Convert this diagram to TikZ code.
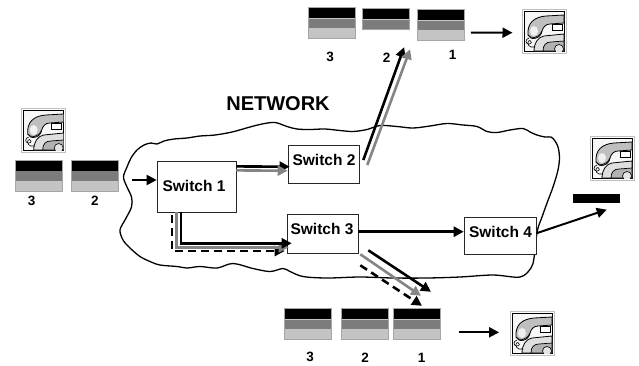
\documentclass[tikz,border=0pt]{standalone}
\usepackage{fontspec}
\setmainfont{Liberation Sans}
\usetikzlibrary{arrows.meta,calc}

\definecolor{pktdark}{HTML}{7C7C7C}
\definecolor{pktlight}{HTML}{C4C4C4}
\definecolor{trail}{HTML}{858585}

\tikzset{
  switchbox/.style={draw=black!85, line width=0.6pt, fill=white, inner sep=0pt},
  switchlabel/.style={font=\fontsize{15.5}{18}\selectfont\bfseries, inner sep=0pt},
  seqlabel/.style={font=\fontsize{13.5}{16}\selectfont\bfseries, inner sep=0pt},
  netlabel/.style={font=\fontsize{20}{24}\selectfont\bfseries, inner sep=0pt},
  tip/.style={-{Triangle[length=10pt,width=10pt]}},
  flow/.style={tip, line width=2.6pt, line join=miter},
  flowgray/.style={flow, draw=trail},
  flowdash/.style={flow, dash pattern=on 8pt off 5pt},
  thinflow/.style={tip, line width=2pt},
  packet/.pic={
    \fill[gray!45] (0,0) rectangle (47,31);
    \fill[black] (0,0) rectangle (47,10.6);
    \fill[pktdark] (0,11.3) rectangle (47,20.7);
    \fill[pktlight] (0,21.4) rectangle (47,31);
    \draw[gray!70, line width=0.5pt] (0,0) rectangle (47,31);
    \node[inner sep=0pt, minimum width=47pt, minimum height=31pt] (-box) at (23.5,15.5) {};
  },
  packettwo/.pic={
    \fill[gray!45] (0,0) rectangle (47,21);
    \fill[black] (0,0) rectangle (47,10.6);
    \fill[pktdark] (0,11.3) rectangle (47,21);
    \draw[gray!70, line width=0.5pt] (0,0) rectangle (47,21);
    \node[inner sep=0pt, minimum width=47pt, minimum height=21pt] (-box) at (23.5,10.5) {};
  },
  phone/.pic={
    \fill[white] (0,0) rectangle (44,44);
    \draw[gray!50, line width=1pt] (0,0) rectangle (44,44);
    \draw[black, line width=0.9pt, fill=gray!6] (2,2) rectangle (42,42);
    \begin{scope}
      \clip (2,2) rectangle (42,42);
      % telephone base
      \draw[line width=0.8pt, fill=gray!25] (12,42) .. controls (12,34) and (16,28) .. (22,27) -- (42,25) -- (42,42) -- cycle;
      \draw[line width=0.7pt, fill=gray!60] (21,42) .. controls (21,36) and (24,33) .. (29,33) -- (42,32) -- (42,42) -- cycle;
      \draw[line width=0.6pt, fill=gray!20] (37,40) circle (4.5);
      % handset
      \draw[line width=0.8pt, fill=gray!50] (6,26) .. controls (5,14) and (12,8) .. (24,7) -- (42,6) -- (42,14) -- (28,15) .. controls (24,15) and (21,18) .. (20,22) .. controls (19,30) and (8,32) .. (6,26) -- cycle;
      \fill[gray!12] (12,22) ellipse (4 and 5);
      \draw[line width=0.6pt] (6,26) .. controls (9,30) and (16,30) .. (20,22);
      \draw[line width=0.6pt, fill=white] (30,15) rectangle (40,21);
      % cord
      \draw[line width=0.6pt] (7,29) .. controls (3,30) and (3,35) .. (7,35) .. controls (10,35) and (10,32) .. (8,31.5) .. controls (5,31) and (5,37) .. (9,38) -- (13,38);
    \end{scope}
    \node[inner sep=0pt, minimum size=44pt] (-box) at (22,22) {};
  },
}

\begin{document}
\begin{tikzpicture}[x=1pt, y=-1pt]
\useasboundingbox (0,0) rectangle (639,365);

% network cloud
\draw[line width=1.3pt, line join=round] plot[smooth cycle, tension=0.55] coordinates {
  (131,158) (137,150) (144,145) (151,143) (157,144) (164,141) (174,139) (187,138)
  (200,136) (215,135) (232,132) (250,127) (262,124) (275,122.5) (287,126.5) (297,129)
  (310,129.5) (325,129) (340,130.5) (353,131.5) (367,129.5) (380,125.5) (397,126.5)
  (413,128) (430,126) (447,123.5) (463,125) (477,126.5) (487,131.5) (497,132.5)
  (510,130) (523,128.5) (530,132) (537,135) (545,137) (551,137) (555,141) (558,147)
  (559.5,157) (558,170) (553,187) (547,203) (542,217) (538,228) (536,240) (534,258)
  (531,268) (520,277) (493,275) (460,277) (427,278) (393,278) (360,277) (327,278)
  (303,276.5) (290,271.5) (283,268.5) (270,271.5) (253,268.5) (233,263.5) (217,268)
  (200,266.5) (187,268) (177,266.5) (160,265) (150,261.5) (140,256.5) (130,248)
  (123,240) (120,230) (125,220) (131.5,207) (131.5,197) (127,187) (123.5,177) (127,167)
};
\node[netlabel] (net) at (278,103.7) {NETWORK};

% switches
\node[switchbox, minimum width=79pt, minimum height=51pt] (s1) at (196.5,186.5) {};
\node[switchbox, minimum width=71pt, minimum height=38pt] (s2) at (323.5,164) {};
\node[switchbox, minimum width=71pt, minimum height=39pt] (s3) at (322.5,233.5) {};
\node[switchbox, minimum width=72pt, minimum height=37pt] (s4) at (500,235.5) {};
\node[switchlabel] (s1t) at (194,186) {Switch 1};
\node[switchlabel] (s2t) at (324,160) {Switch 2};
\node[switchlabel] (s3t) at (322,229) {Switch 3};
\node[switchlabel] (s4t) at (500.5,232) {Switch 4};

% sender side
\pic (lph) at (21.7,108) {phone};
\pic (lp3) at (15,160) {packet};
\pic (lp2) at (71.7,160) {packet};
\node[seqlabel] (lp3n) at (31.7,201) {3};
\node[seqlabel] (lp2n) at (95,201) {2};

% receiver via switch 2
\pic (tp3) at (308,7.5) {packet};
\pic (tp2) at (362,8.3) {packettwo};
\pic (tp1) at (417.3,9.3) {packet};
\node[seqlabel] (tp3n) at (330,56.7) {3};
\node[seqlabel] (tp2n) at (386.7,57.7) {2};
\node[seqlabel] (tp1n) at (452.7,55) {1};
\pic (tph) at (522,9) {phone};

% receiver via switch 3
\pic (bp3) at (284,308.3) {packet};
\pic (bp2) at (341,308.3) {packet};
\pic (bp1) at (393.3,308.3) {packet};
\node[seqlabel] (bp3n) at (310,356.5) {3};
\node[seqlabel] (bp2n) at (365,357.5) {2};
\node[seqlabel] (bp1n) at (421.7,358.3) {1};
\pic (bph) at (510,311) {phone};

% receiver via switch 4
\pic (rph) at (590,136) {phone};
\node[fill=black, minimum width=47pt, minimum height=9.5pt, inner sep=0pt] (bar) at (596.5,198.7) {};

% flows
\draw[thinflow] ($(s1.west)+(-25,-6.5)$) -- ($(s1.west)+(0,-6.5)$);

\draw[flow] ($(s1.north east)+(0,5.7)$) -- ($(s2.west)+(2,2.7)$);
\draw[flowgray] ($(s1.north east)+(0,9.7)$) -- ($(s2.west)+(0,6.7)$);

\draw[flowdash] ($(s1.south)+(-24.5,3)$) |- ($(s3.west)+(-2,17.5)$);
\draw[flowgray] ($(s1.south)+(-20,0)$) |- ($(s3.west)+(2,13.8)$);
\draw[flow] ($(s1.south)+(-15.5,0)$) |- ($(s3.west)+(5,9.8)$);

\draw[flow] ($(s3.east)+(0,-1.8)$) -- ($(s4.west)+(0,-3.8)$);
\draw[thinflow] ($(s4.east)+(0,-2.2)$) -- ($(bar.south)+(10.2,6)$);

\draw[flow] ($(s2.east)+(4,-4)$) -- ($(tp2-box.south)+(18.6,17.7)$);
\draw[flowgray] ($(s2.east)+(8,1)$) -- ($(tp2-box.south)+(24.6,19.7)$);

\draw[flow] ($(s3.south east)+(10,-3)$) -- ($(bp1-box.north)+(14.2,-16.3)$);
\draw[flowgray] ($(s3.south east)+(2,1)$) -- ($(bp1-box.north)+(4.2,-12.3)$);
\draw[flowdash] ($(s3.south east)+(2,12)$) -- ($(bp1-box.north)+(5.2,-2.3)$);

\draw[thinflow] ($(tp1-box.east)+(6.4,7.7)$) -- ($(tph-box.west)+(-9.3,1.7)$);
\draw[thinflow] ($(bp1-box.east)+(18,8.5)$) -- ($(bph-box.west)+(-10.7,-0.7)$);
\end{tikzpicture}
\end{document}
